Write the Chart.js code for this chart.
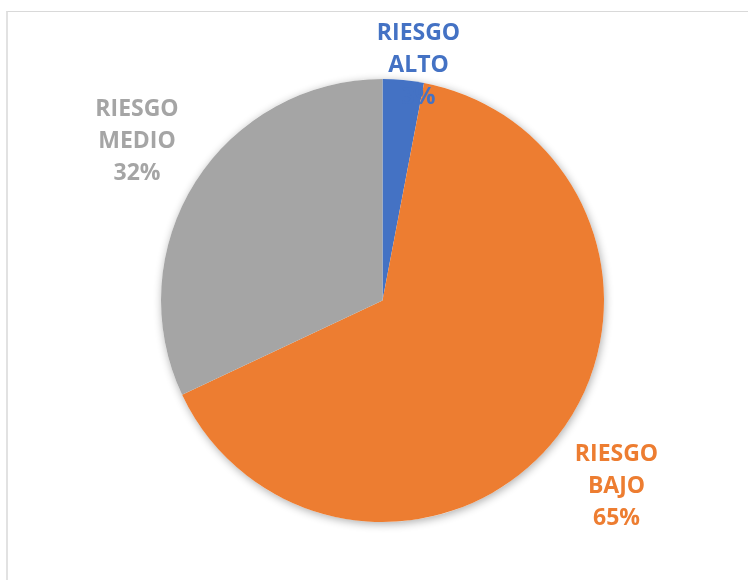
<!DOCTYPE html>
<html>
<head>
<meta charset="utf-8">
<script src="https://cdn.jsdelivr.net/npm/chart.js@4"></script>
<style>
  html, body { margin: 0; padding: 0; background: #ffffff; }
  #wrap { position: relative; width: 748px; height: 580px; overflow: hidden; }
  #frame {
    position: absolute; left: 6px; top: 11px; width: 900px; height: 800px;
    border-left: 2px solid #e2e2e2; border-top: 1px solid #d9d9d9;
    pointer-events: none;
  }
  canvas { position: absolute; left: 0; top: 0; }
</style>
</head>
<body>
<div id="wrap">
  <div id="frame"></div>
  <canvas id="c" width="748" height="580"></canvas>
</div>
<script>
// Risk categories and their share (%)
const categories = ['RIESGO ALTO', 'RIESGO BAJO', 'RIESGO MEDIO'];
const shares = [3, 65, 32];
const sliceColors = ['#4472C4', '#ED7D31', '#A5A5A5'];

// Label placement: distance from centre (in radii) and angular nudge (degrees)
const labelRadius = [1.075, 1.35, 1.32];
const labelNudge = [3.3, 0.7, 0.5];

// Soft drop shadow under the whole pie
const pieShadow = {
  id: 'pieShadow',
  beforeDatasetsDraw(chart) {
    const arc = chart.getDatasetMeta(0).data[0];
    if (!arc) return;
    const ctx = chart.ctx;
    ctx.save();
    ctx.shadowColor = 'rgba(0,0,0,0.32)';
    ctx.shadowBlur = 9;
    ctx.shadowOffsetX = 1;
    ctx.shadowOffsetY = 2;
    ctx.fillStyle = '#ffffff';
    ctx.beginPath();
    ctx.arc(arc.x, arc.y, arc.outerRadius, 0, Math.PI * 2);
    ctx.fill();
    ctx.restore();
  }
};

// Category name + percentage drawn beside each slice
const sliceLabels = {
  id: 'sliceLabels',
  afterDatasetsDraw(chart) {
    const ctx = chart.ctx;
    const meta = chart.getDatasetMeta(0);
    const total = shares.reduce((a, b) => a + b, 0);
    ctx.save();
    ctx.font = 'bold 23px "Open Sans", "Liberation Sans", sans-serif';
    ctx.textAlign = 'center';
    ctx.textBaseline = 'middle';
    meta.data.forEach((arc, i) => {
      const mid = (arc.startAngle + arc.endAngle) / 2 + labelNudge[i] * Math.PI / 180;
      const r = arc.outerRadius * labelRadius[i];
      const cx = arc.x + Math.cos(mid) * r;
      const cy = arc.y + Math.sin(mid) * r;
      const lines = categories[i].split(' ');
      lines.push(Math.round(shares[i] / total * 100) + '%');
      const lh = 32;
      const top = cy - (lines.length - 1) * lh / 2;
      ctx.fillStyle = sliceColors[i];
      lines.forEach((t, k) => ctx.fillText(t, cx, top + k * lh));
    });
    ctx.restore();
  }
};

new Chart(document.getElementById('c'), {
  type: 'pie',
  data: {
    labels: categories,
    datasets: [{
      data: shares,
      backgroundColor: sliceColors,
      borderWidth: 0
    }]
  },
  options: {
    responsive: false,
    animation: false,
    layout: { padding: { top: 79, bottom: 58, left: 17, right: 0 } },
    plugins: {
      legend: { display: false },
      tooltip: { enabled: false }
    }
  },
  plugins: [pieShadow, sliceLabels]
});
</script>
</body>
</html>
